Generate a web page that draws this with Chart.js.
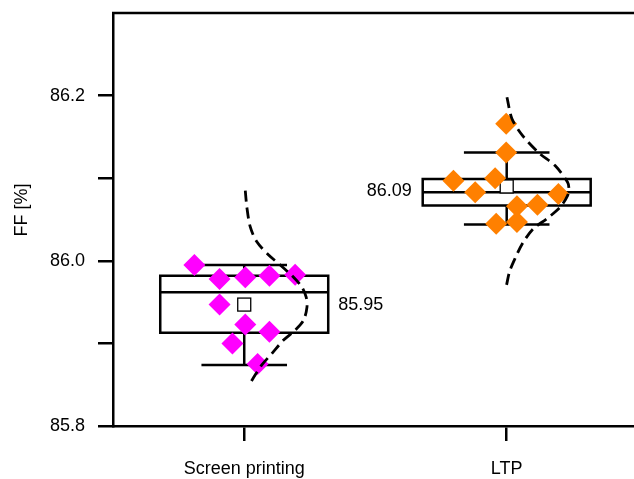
<!DOCTYPE html>
<html>
<head>
<meta charset="utf-8">
<script src="https://cdn.jsdelivr.net/npm/chart.js@4.4.0/dist/chart.umd.min.js"></script>
<style>
  html, body { margin: 0; padding: 0; background: #fff; overflow: hidden; }
</style>
</head>
<body>
<canvas id="ffChart" width="634" height="479"></canvas>
<script>
const groups = ['Screen printing', 'LTP'];
const groupPos = [1, 2];
const yTicks = [85.8, 85.9, 86.0, 86.1, 86.2];
const yLabelled = [85.8, 86.0, 86.2];

// box statistics per group
const boxQ1 = [85.913, 86.067];
const boxMedian = [85.962, 86.083];
const boxQ3 = [85.982, 86.099];
const whiskerLow = [85.874, 86.044];
const whiskerHigh = [85.995, 86.131];
const means = [85.947, 86.090];

// raw points (x = offset from group centre)
const spOffset = [-0.190, -0.094, 0.004, 0.096, 0.194, -0.094, 0.004, 0.096, -0.045, 0.051];
const spFF = [85.995, 85.978, 85.980, 85.982, 85.983, 85.947, 85.923, 85.914, 85.900, 85.875];
const ltpOffset = [-0.002, -0.002, -0.203, -0.044, -0.120, 0.197, 0.039, 0.117, -0.040, 0.039];
const ltpFF = [86.166, 86.131, 86.097, 86.100, 86.083, 86.081, 86.066, 86.068, 86.045, 86.047];

// distribution curves
const spCurveOffset = [0.004, 0.010, 0.023, 0.048, 0.093, 0.137, 0.188, 0.220, 0.236, 0.239, 0.226, 0.194, 0.150, 0.106, 0.067, 0.042, 0.023];
const spCurveFF = [86.085, 86.065, 86.041, 86.023, 86.007, 85.995, 85.980, 85.968, 85.956, 85.944, 85.928, 85.916, 85.904, 85.888, 85.874, 85.862, 85.852];
const ltpCurveOffset = [0.001, 0.020, 0.062, 0.125, 0.185, 0.232, 0.237, 0.232, 0.204, 0.153, 0.102, 0.062, 0.032, 0.011, -0.001];
const ltpCurveFF = [86.198, 86.172, 86.151, 86.130, 86.115, 86.095, 86.087, 86.079, 86.065, 86.051, 86.039, 86.022, 86.003, 85.987, 85.970];

const FONT = 'Liberation Sans, Arial, sans-serif';
const BOX_HALF = 0.32;
const CAP_HALF = 0.163;
const LINE_W = 2.5;

const toPoints = (pos, offs, vals) => offs.map((o, i) => ({ x: pos + o, y: vals[i] }));

const boxPlugin = {
    id: 'boxes',
    beforeDatasetsDraw(chart) {
        const { ctx, scales: { x, y } } = chart;
        ctx.save();
        groupPos.forEach((p, i) => {
            const l = x.getPixelForValue(p - BOX_HALF);
            const r = x.getPixelForValue(p + BOX_HALF);
            const cl = x.getPixelForValue(p - CAP_HALF);
            const cr = x.getPixelForValue(p + CAP_HALF);
            const cx = x.getPixelForValue(p);
            const q1 = y.getPixelForValue(boxQ1[i]);
            const q3 = y.getPixelForValue(boxQ3[i]);
            const med = y.getPixelForValue(boxMedian[i]);
            const lo = y.getPixelForValue(whiskerLow[i]);
            const hi = y.getPixelForValue(whiskerHigh[i]);

            ctx.strokeStyle = '#000';
            ctx.lineWidth = LINE_W;
            ctx.beginPath();
            ctx.moveTo(cx, q3); ctx.lineTo(cx, hi);
            ctx.moveTo(cl, hi); ctx.lineTo(cr, hi);
            ctx.moveTo(cx, q1); ctx.lineTo(cx, lo);
            ctx.moveTo(cl, lo); ctx.lineTo(cr, lo);
            ctx.rect(l, q3, r - l, q1 - q3);
            ctx.moveTo(l, med); ctx.lineTo(r, med);
            ctx.stroke();

            // mean marker
            const m = y.getPixelForValue(means[i]);
            ctx.fillStyle = '#fff';
            ctx.lineWidth = 1.3;
            ctx.fillRect(cx - 6.5, m - 6.5, 13, 13);
            ctx.strokeRect(cx - 6.5, m - 6.5, 13, 13);

            // mean label
            ctx.fillStyle = '#000';
            ctx.font = '18px ' + FONT;
            ctx.textBaseline = 'middle';
            if (i === 0) {
                ctx.textAlign = 'left';
                ctx.fillText(means[i].toFixed(2), r + 10, m);
            } else {
                ctx.textAlign = 'right';
                ctx.fillText(means[i].toFixed(2), l - 11, m + 5);
            }
        });
        ctx.restore();
    },
    afterDraw(chart) {
        const { ctx, chartArea } = chart;
        ctx.save();
        // top frame line
        ctx.strokeStyle = '#000';
        ctx.lineWidth = LINE_W;
        ctx.beginPath();
        ctx.moveTo(chartArea.left - 1, chartArea.top);
        ctx.lineTo(chartArea.right, chartArea.top);
        ctx.stroke();

        // y axis title
        ctx.translate(22, 210);
        ctx.rotate(-Math.PI / 2);
        ctx.fillStyle = '#000';
        ctx.font = '18px ' + FONT;
        ctx.textAlign = 'center';
        ctx.textBaseline = 'middle';
        ctx.fillText('FF [%]', 0, 0);
        ctx.restore();
    }
};

const axisGrid = {
    display: true,
    drawOnChartArea: false,
    drawTicks: true,
    tickLength: 15,
    color: '#000',
    lineWidth: LINE_W
};

const noPad = s => {
    s.paddingTop = 0; s.paddingBottom = 0;
    s.paddingLeft = 0; s.paddingRight = 0;
};

const curveStyle = {
    showLine: true, borderColor: '#000', borderWidth: 2.8,
    borderDash: [11, 6], pointRadius: 0, tension: 0.3, order: 0
};

new Chart(document.getElementById('ffChart'), {
    type: 'scatter',
    data: {
        datasets: [
            { ...curveStyle, data: toPoints(groupPos[0], spCurveOffset, spCurveFF) },
            { ...curveStyle, data: toPoints(groupPos[1], ltpCurveOffset, ltpCurveFF) },
            {
                data: toPoints(groupPos[0], spOffset, spFF),
                pointStyle: 'rectRot', pointRadius: 11, borderWidth: 0,
                backgroundColor: '#ff00ff', order: 1
            },
            {
                data: toPoints(groupPos[1], ltpOffset, ltpFF),
                pointStyle: 'rectRot', pointRadius: 11, borderWidth: 0,
                backgroundColor: '#ff8000', order: 1
            }
        ]
    },
    options: {
        responsive: false,
        animation: false,
        devicePixelRatio: 1,
        layout: { autoPadding: false, padding: { top: 13, right: 0, bottom: 0, left: 0 } },
        plugins: { legend: { display: false }, tooltip: { enabled: false } },
        scales: {
            x: {
                type: 'linear',
                min: 0.5,
                max: 2.485,
                afterFit: s => { s.height = 53; noPad(s); },
                afterBuildTicks: s => { s.ticks = groupPos.map(v => ({ value: v })); },
                grid: axisGrid,
                border: { display: true, color: '#000', width: LINE_W },
                ticks: {
                    color: '#000',
                    font: { family: FONT, size: 18 },
                    padding: 17,
                    maxRotation: 0,
                    autoSkip: false,
                    callback: v => groups[groupPos.indexOf(v)]
                }
            },
            y: {
                min: 85.8,
                max: 86.3,
                afterFit: s => { s.width = 113; noPad(s); },
                afterBuildTicks: s => { s.ticks = yTicks.map(v => ({ value: v })); },
                grid: axisGrid,
                border: { display: true, color: '#000', width: LINE_W },
                ticks: {
                    color: '#000',
                    font: { family: FONT, size: 18 },
                    padding: 13,
                    callback: v => yLabelled.some(t => Math.abs(t - v) < 1e-6) ? v.toFixed(1) : ''
                }
            }
        }
    },
    plugins: [boxPlugin]
});
</script>
</body>
</html>
